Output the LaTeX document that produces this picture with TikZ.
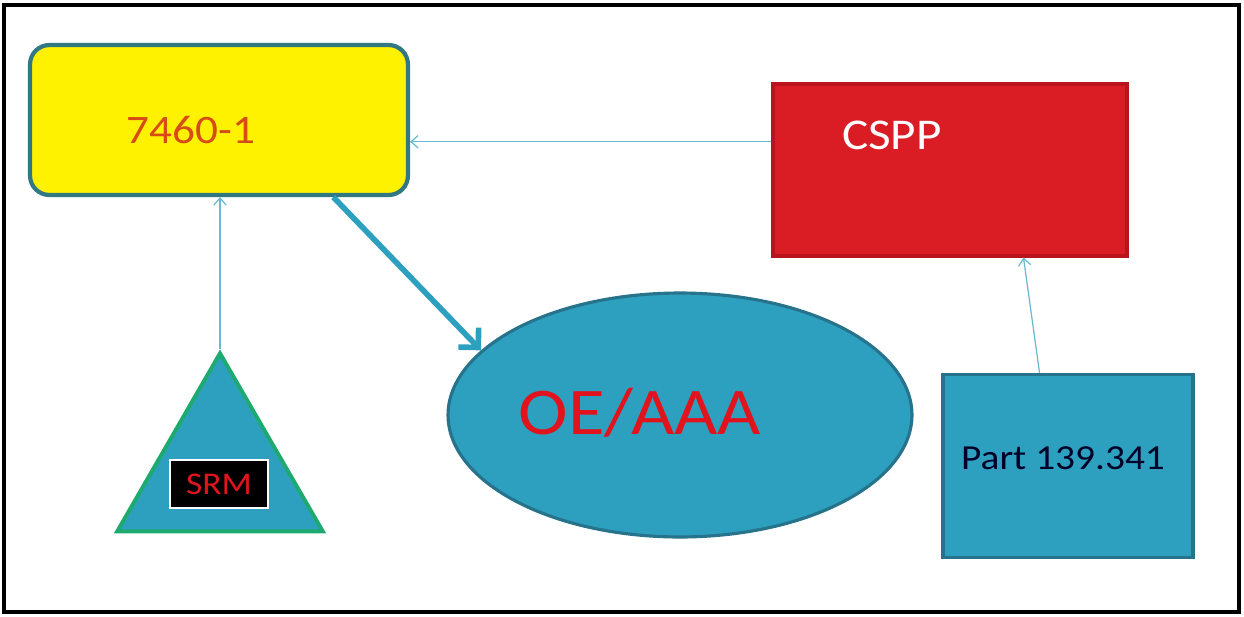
\documentclass[tikz,border=0pt]{standalone}
\usepackage{fontspec}
\setmainfont{Carlito}[FakeStretch=1.12]
\usetikzlibrary{shapes.geometric, arrows.meta, calc}

\definecolor{boxteal}{RGB}{45,160,192}
\definecolor{boxedge}{RGB}{40,115,140}
\definecolor{formedge}{RGB}{50,120,130}
\definecolor{formtext}{RGB}{215,75,20}
\definecolor{csppred}{RGB}{218,28,36}
\definecolor{csppedge}{RGB}{185,20,30}
\definecolor{srmgreen}{RGB}{30,170,110}
\definecolor{srmred}{RGB}{225,20,30}
\definecolor{linkblue}{RGB}{105,185,210}

\begin{document}
\begin{tikzpicture}
  [
    x = 0.02cm, y = -0.02cm,
    every node/.style = {inner sep=0pt, line width=1.8pt},
    link/.style = {draw=linkblue, line width=0.7pt, -{Straight Barb[length=4pt, width=7pt]}},
    bigarrow/.style = {draw=boxteal, line width=3.2pt, -{Straight Barb[length=8pt, width=16pt]}}
  ]
  \useasboundingbox (0,0) rectangle (1244,616);
  \draw[line width=1.8pt] (4,5) rectangle (1239,612);

  % shapes
  \node[draw=formedge, fill=yellow, rounded corners=11pt, line width=2.4pt,
        minimum width=7.56cm, minimum height=3cm] (form) at (219,120) {};
  \node[text=formtext, font=\fontsize{23}{25}\selectfont] (formtext) at (191,130) {7460-1};

  \node[draw=csppedge, fill=csppred, minimum width=7.08cm, minimum height=3.44cm] (cspp) at (950,170) {};
  \node[text=white, font=\fontsize{25}{27}\selectfont] (cspptext) at (892,135) {CSPP};

  \node[ellipse, draw=boxedge, fill=boxteal, minimum width=9.28cm, minimum height=4.88cm] (oe) at (680,415) {};
  \node[text=srmred, font=\fontsize{38}{42}\selectfont] (oetext) at (640,413) {OE/AAA};

  \node[draw=boxedge, fill=boxteal, minimum width=5cm, minimum height=3.66cm] (part) at (1068,466) {};
  \node[text={black!85!blue}, font=\fontsize{20}{22}\selectfont] (parttext) at (1063,458) {Part 139.341};

  \node[regular polygon, regular polygon sides=3, draw=srmgreen, fill=boxteal, line width=2.2pt,
        minimum size=4.75cm] (tri) at (220,472) {};
  \node[draw=white, line width=0.6pt, fill=black, text=srmred, font=\fontsize{18}{20}\selectfont,
        minimum width=1.96cm, minimum height=0.96cm] (srm) at (219,484) {SRM};

  % connectors
  \draw[link] (cspp.171) -- (cspp.171 -| form.east);
  \draw[link] (tri.corner 1) -- (tri.corner 1 |- form.south);
  \draw[link] (part.107) -- (cspp.-50);
  \draw[bigarrow] (form.-34) -- (oe.162);
\end{tikzpicture}
\end{document}
